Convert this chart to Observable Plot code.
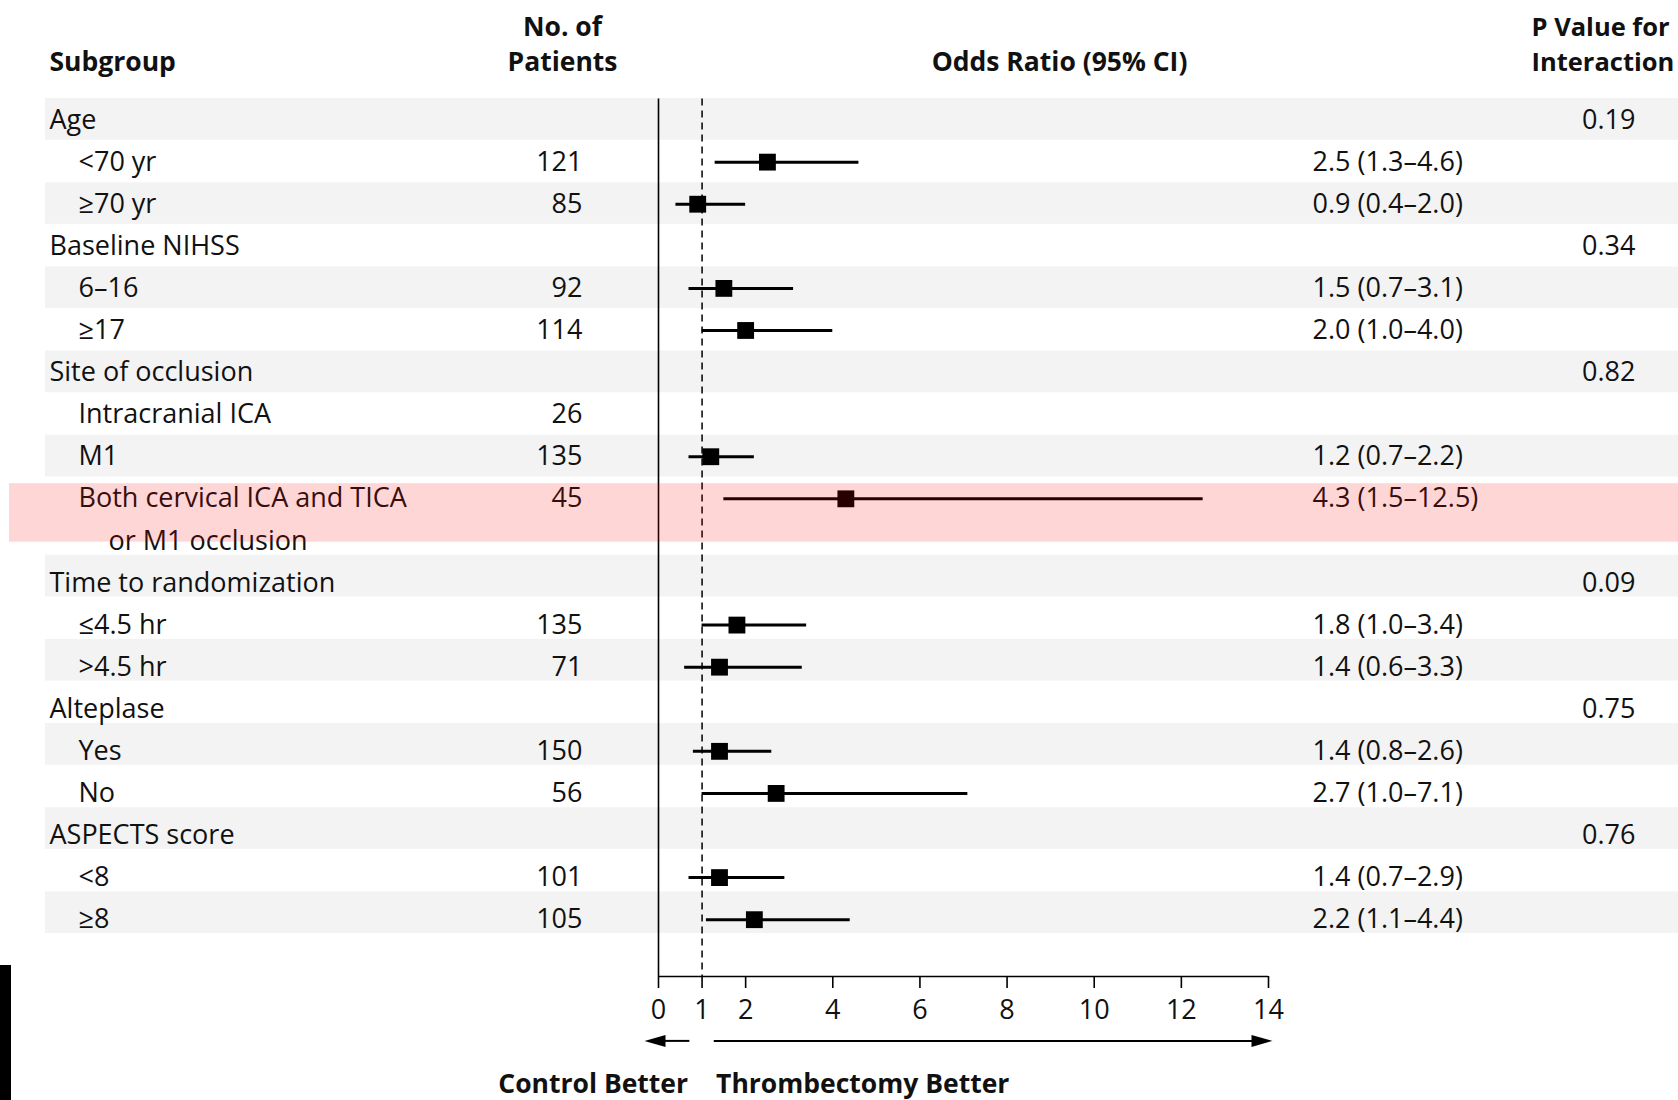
<!DOCTYPE html>
<html><head><meta charset="utf-8">
<script src="https://cdn.jsdelivr.net/npm/d3@7"></script>
<script src="https://cdn.jsdelivr.net/npm/@observablehq/plot@0.6"></script>
<style>
html,body{margin:0;padding:0;background:#fff;}
#chart{position:relative;width:1678px;height:1100px;overflow:hidden;}
#corner{position:absolute;left:0;top:965px;width:11px;height:135px;background:#000;}
</style></head><body><div id="chart"><div id="corner"></div></div>
<script>
// ---- data ----
const labels = ["Age","<70 yr","≥70 yr","Baseline NIHSS","6–16","≥17","Site of occlusion","Intracranial ICA","M1","Both cervical ICA and TICA","or M1 occlusion","Time to randomization","≤4.5 hr",">4.5 hr","Alteplase","Yes","No","ASPECTS score","<8","≥8"];
const indentLevel = [0,1,1,0,1,1,0,1,1,1,2,0,1,1,0,1,1,0,1,1];
const patients = [null,121,85,null,92,114,null,26,135,45,null,null,135,71,null,150,56,null,101,105];
const oddsRatio = [null,2.5,0.9,null,1.5,2.0,null,null,1.2,4.3,null,null,1.8,1.4,null,1.4,2.7,null,1.4,2.2];
const ciLow =     [null,1.3,0.4,null,0.7,1.0,null,null,0.7,1.5,null,null,1.0,0.6,null,0.8,1.0,null,0.7,1.1];
const ciHigh =    [null,4.6,2.0,null,3.1,4.0,null,null,2.2,12.5,null,null,3.4,3.3,null,2.6,7.1,null,2.9,4.4];
const pInteraction = ["0.19",null,null,"0.34",null,null,"0.82",null,null,null,null,"0.09",null,null,"0.75",null,null,"0.76",null,null];
const shadedRow = [1,0,1,0,1,0,1,0,1,0,0,1,0,1,0,1,0,1,0,1];
const highlightedRow = 9;
const xTicks = [0,1,2,4,6,8,10,12,14];
const headerSubgroup = "Subgroup";
const headerPatients = ["No. of","Patients"];
const headerOR = "Odds Ratio (95% CI)";
const headerP = ["P Value for","Interaction"];
const directionLabels = ["Control Better","Thrombectomy Better"];

// ---- layout ----
const FONT = "'Open Sans', Lato, sans-serif";
const FS = 27, FSB = 26.5, FSP = 25.5;
const xRange = [658, 1268];
const toX = d3.scaleLinear(xRange, [0,14]);            // pixel column -> x units
const col = {label:[49,78,108].map(toX), n:toX(582), or:toX(1312), p:toX(1635), nHead:toX(562), orHead:toX(1059), pHead:toX(1531)};
const yTop = -0.5, yAxis = 20.35, yArrow = 21.88, yDir = 22.92, yHead1 = -2.2, yHead2 = -1.37;
const bandShift = s => s >= 11 ? -0.16 : -0.01;

const rows = labels.map((label,i)=>({slot:i,label,level:indentLevel[i],n:patients[i],or:oddsRatio[i],lo:ciLow[i],hi:ciHigh[i],p:pInteraction[i],shaded:shadedRow[i]}));
const est = rows.filter(d=>d.or!=null);
const f1 = d3.format(".1f");
const orText = d => `${f1(d.or)} (${f1(d.lo)}–${f1(d.hi)})`;

// elongated filled arrowhead, tip at origin pointing right
const arrowHead = {draw(ctx, size){ const r = Math.sqrt(size/Math.PI); ctx.moveTo(0,0); ctx.lineTo(-2.1*r,-0.6*r); ctx.lineTo(-2.1*r,0.6*r); ctx.closePath(); }};

const txt = {fontSize:FS, fill:"#111", lineAnchor:"middle", fontWeight:500};
const bold = {fontSize:FSB, fill:"#111", lineAnchor:"middle", fontWeight:"bold"};

const plot = Plot.plot({
  width:1678, height:1100,
  marginTop:98.5, marginBottom:124, marginLeft:0, marginRight:0,
  x:{domain:[0,14], range:xRange},
  y:{domain:[yTop,yAxis], range:[98.5,976], axis:null},
  style:{fontFamily:FONT, fontSize:FS+"px", color:"#111", background:"#fff", overflow:"visible"},
  marks:[
    Plot.rect(rows.filter(d=>d.shaded), {y1:d=>d.slot-0.5+bandShift(d.slot), y2:d=>d.slot+0.49+bandShift(d.slot), fill:"#f3f3f3", insetLeft:45}),
    Plot.ruleX([0], {y1:yTop, y2:yAxis, stroke:"#000", strokeWidth:1.6}),
    Plot.ruleX([1], {y1:yTop, y2:yAxis, stroke:"#000", strokeWidth:1.5, strokeDasharray:"7,5"}),
    Plot.ruleY([yAxis], {x1:0, x2:14, stroke:"#000", strokeWidth:1.6}),
    Plot.axisX({ticks:xTicks, tickFormat:d=>String(d), tickSize:12, tickPadding:11, fontSize:FS, fontWeight:500, stroke:"#000", strokeWidth:1.6, fill:"#111", label:null}),
    Plot.ruleY(est, {y:"slot", x1:"lo", x2:"hi", stroke:"#000", strokeWidth:3}),
    Plot.dot(est, {x:"or", y:"slot", symbol:"square", r:9.5, fill:"#000", stroke:null}),
    // row labels
    ...[0,1,2].map(l => Plot.text(rows.filter(d=>d.level===l), {...txt, x:()=>col.label[l], y:"slot", text:"label", textAnchor:"start"})),
    Plot.text(rows.filter(d=>d.n!=null), {...txt, x:()=>col.n, y:"slot", text:d=>String(d.n), textAnchor:"end"}),
    Plot.text(est, {...txt, x:()=>col.or, y:"slot", text:orText, textAnchor:"start"}),
    Plot.text(rows.filter(d=>d.p!=null), {...txt, x:()=>col.p, y:"slot", text:"p", textAnchor:"end"}),
    // headers
    Plot.text([headerSubgroup], {...bold, x:()=>col.label[0], y:()=>yHead2, text:d=>d, textAnchor:"start"}),
    Plot.text(headerPatients, {...bold, x:()=>col.nHead, y:(d,i)=>i?yHead2:yHead1, text:d=>d, textAnchor:"middle"}),
    Plot.text([headerOR], {...bold, x:()=>col.orHead, y:()=>yHead2, text:d=>d, textAnchor:"middle"}),
    Plot.text(headerP, {...bold, fontSize:FSP, x:()=>col.pHead, y:(d,i)=>i?yHead2:yHead1, text:d=>d, textAnchor:"start"}),
    // direction arrows
    Plot.ruleY([yArrow], {x1:0.72, x2:0.05, stroke:"#000", strokeWidth:2}),
    Plot.ruleY([yArrow], {x1:1.28, x2:13.8, stroke:"#000", strokeWidth:2}),
    Plot.dot([{x:toX(644), a:180},{x:toX(1272), a:0}], {x:"x", y:()=>yArrow, rotate:"a", symbol:arrowHead, r:10, fill:"#000", stroke:null}),
    Plot.text([directionLabels[0]], {...bold, x:()=>1, y:()=>yDir, text:d=>d, textAnchor:"end", dx:-14}),
    Plot.text([directionLabels[1]], {...bold, x:()=>1, y:()=>yDir, text:d=>d, textAnchor:"start", dx:14}),
    // highlight overlay
    Plot.rect(rows.filter(d=>d.slot===highlightedRow), {y1:d=>d.slot-0.36, y2:d=>d.slot+1.03, fill:"rgb(255,0,0)", fillOpacity:0.16, insetLeft:9})
  ]
});
document.getElementById("chart").prepend(plot);
</script></body></html>
